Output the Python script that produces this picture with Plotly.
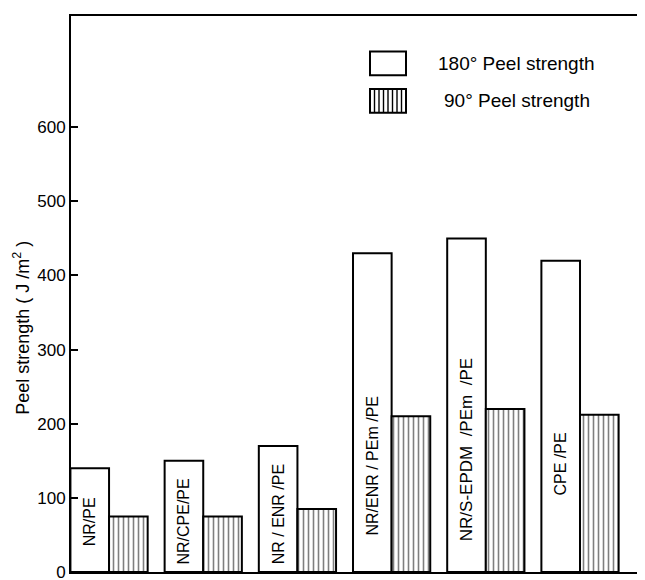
import plotly.graph_objects as go

# ---- data ----
NB = "\u00a0"
categories = ["NR/PE", "NR/CPE/PE", "NR / ENR /PE", "NR/ENR / PEm /PE",
              "NR/S-EPDM" + NB * 2 + "/PEm" + NB * 2 + "/PE", "CPE /PE"]
peel_180 = [140, 150, 170, 430, 450, 420]
peel_90 = [75, 75, 85, 210, 220, 212]
label_y = [68, 68, 78, 144, 165, 146]   # vertical centre of in-bar labels (data units)
y_ticks = [0, 100, 200, 300, 400, 500, 600]
series_names = ["180° Peel strength", "90° Peel strength"]
y_title = "Peel strength ( J /m<sup>2</sup> )"

W, H = 645, 580
OFF = 8  # page body margin in the browser
# desired plot-area edges in window pixels
PL, PR, PT, PB = 71, 645, 14, 577.5
ML, MR, MT, MB = PL - OFF, W - (PR - OFF), PT - OFF, H - (PB - OFF)
FONT = "Liberation Sans"

xs = list(range(len(categories)))

fig = go.Figure()
fig.add_trace(go.Bar(
    x=xs, y=peel_180, name=series_names[0],
    marker=dict(color="white", line=dict(color="black", width=2)),
    showlegend=False,
))
fig.add_trace(go.Bar(
    x=xs, y=peel_90, name=series_names[1],
    marker=dict(color="white", line=dict(color="black", width=2),
                pattern=dict(shape="|", fgcolor="black", bgcolor="white",
                             size=5, solidity=0.32)),
    showlegend=False,
))

# in-bar rotated category labels, centred on the 180° bars
bar_w = (1 - 0.18) / 2
label_sizes = [16, 16, 16, 16, 17, 16]
for i, (cat, ly, fs) in enumerate(zip(categories, label_y, label_sizes)):
    fig.add_annotation(x=i - bar_w / 2, y=ly, xref="x", yref="y", text=cat,
                       textangle=-90, showarrow=False,
                       font=dict(family=FONT, size=fs, color="black"))

pw = PR - PL
ph = PB - PT
def px2paper(px, py):
    """window pixel -> paper coordinates"""
    return (px - PL) / pw, (PB - py) / ph

tx, ty = px2paper(22, 330)
fig.add_annotation(x=tx, y=ty, xref="paper", yref="paper", text=y_title,
                   textangle=-90, showarrow=False, xanchor="center", yanchor="middle",
                   font=dict(family=FONT, size=18, color="black"))

# custom legend
shapes = []
x0, y0 = px2paper(370, 50)
x1, y1 = px2paper(406, 74)
shapes.append(dict(type="rect", xref="paper", yref="paper", x0=x0, x1=x1, y0=y1, y1=y0,
                   line=dict(color="black", width=2), fillcolor="white"))
x0, y0 = px2paper(370, 88)
x1, y1 = px2paper(406, 112)
shapes.append(dict(type="rect", xref="paper", yref="paper", x0=x0, x1=x1, y0=y1, y1=y0,
                   line=dict(color="black", width=2), fillcolor="white"))
for k in range(1, 8):
    lx, _ = px2paper(370 + k * 4.5, 0)
    shapes.append(dict(type="line", xref="paper", yref="paper", x0=lx, x1=lx, y0=y1, y1=y0,
                       line=dict(color="black", width=1.4)))
fig.update_layout(shapes=shapes)

for name, py, sx in zip(series_names, [62, 100], [436, 442]):
    ax_, ay_ = px2paper(sx, py)
    fig.add_annotation(x=ax_, y=ay_, xref="paper", yref="paper", text=name,
                       showarrow=False, xanchor="left", yanchor="middle",
                       font=dict(family=FONT, size=19, color="black"))

fig.update_layout(
    width=W, height=H,
    margin=dict(l=ML, r=MR, t=MT, b=MB, pad=0),
    paper_bgcolor="white", plot_bgcolor="white",
    barmode="group", bargap=0.18, bargroupgap=0,
    font=dict(family=FONT, size=16, color="black"),
    showlegend=False,
)
fig.update_xaxes(range=[-0.404, 5.69], showticklabels=False, ticks="",
                 showline=True, linecolor="black", linewidth=2, mirror=True,
                 showgrid=False, zeroline=False)
fig.update_yaxes(range=[0, 750], tickvals=y_ticks, ticks="inside", ticklen=7,
                 tickwidth=2, tickcolor="black",
                 showline=True, linecolor="black", linewidth=2,
                 showgrid=False, zeroline=False,
                 tickfont=dict(family=FONT, size=17, color="black"))

fig.write_html("out.html")
